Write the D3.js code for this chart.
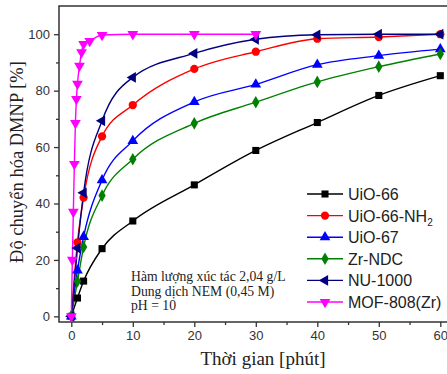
<!DOCTYPE html>
<html>
<head>
<meta charset="utf-8">
<script src="https://cdn.jsdelivr.net/npm/d3@7"></script>
<style>
  body { margin: 0; background: #fff; }
  svg { display: block; }
</style>
</head>
<body>
<div id="chart"></div>
<script>
// time points (minutes)
const tMain = [0, 1, 2, 5, 10, 20, 30, 40, 50, 60];
const tMof = [0, 0.17, 0.33, 0.5, 0.67, 0.83, 1, 1.33, 1.67, 2, 3, 5, 10, 20, 30];

const uio66 = [0, 6.5, 12.5, 24, 33.8, 46.6, 58.8, 68.7, 78.3, 85.3];
const uio66nh2 = [0, 26.2, 42.1, 63.8, 74.9, 87.7, 93.8, 98.4, 99, 100];
const uio67 = [0, 16.3, 28.2, 48.3, 62.2, 76, 82.2, 89.2, 92.4, 94.7];
const zrndc = [0, 12.4, 24.6, 42.8, 55.7, 68.4, 75.9, 83.1, 88.5, 93];
const nu1000 = [0, 24.2, 43.8, 69.3, 84.7, 93.2, 98.2, 99.8, 100, 100];
const mof808 = [0, 20, 37, 54, 68.5, 77, 82.4, 88.8, 93.6, 96.5, 97.6, 99.7, 100, 100, 100];

const seriesNames = ["UiO-66", "UiO-66-NH2", "UiO-67", "Zr-NDC", "NU-1000", "MOF-808(Zr)"];
const xTicks = [0, 10, 20, 30, 40, 50, 60];
const yTicks = [0, 20, 40, 60, 80, 100];
const notes = ["Hàm lượng xúc tác 2,04 g/L", "Dung dịch NEM (0,45 M)", "pH = 10"];

const series = [
  { name: seriesNames[0], t: tMain, v: uio66, color: "#000000", sym: "square" },
  { name: seriesNames[1], t: tMain, v: uio66nh2, color: "#ff0000", sym: "circle" },
  { name: seriesNames[2], t: tMain, v: uio67, color: "#0000ff", sym: "up" },
  { name: seriesNames[3], t: tMain, v: zrndc, color: "#008000", sym: "diamond" },
  { name: seriesNames[4], t: tMain, v: nu1000, color: "#000080", sym: "left" },
  { name: seriesNames[5], t: tMof, v: mof808, color: "#ff00ff", sym: "down" }
];

const W = 447, H = 374;
const svg = d3.select("#chart").append("svg")
  .attr("width", W).attr("height", H);

const x = d3.scaleLinear().domain([-2, 62]).range([59, 452.6]);
const y = d3.scaleLinear().domain([-2, 110]).range([322, 6]);

// symbol path generator
function symPath(sym) {
  const s = {
    square: d3.symbol(d3.symbolSquare, 50),
    circle: d3.symbol(d3.symbolCircle, 54),
    diamond: d3.symbol(d3.symbolDiamond, 46),
    up: d3.symbol(d3.symbolTriangle, 50),
    down: d3.symbol(d3.symbolTriangle, 50),
    left: d3.symbol(d3.symbolTriangle, 50)
  };
  return s[sym]();
}
function symRot(sym) {
  if (sym === "down") return 180;
  if (sym === "left") return -90;
  return 0;
}

// axes
const xAxis = d3.axisBottom(x).tickValues(xTicks).tickSize(5).tickPadding(4);
const xMinor = d3.axisBottom(x).tickValues([5, 15, 25, 35, 45, 55]).tickSize(3).tickFormat("");
const yAxis = d3.axisLeft(y).tickValues(yTicks).tickSize(5).tickPadding(4);
const yMinor = d3.axisLeft(y).tickValues([10, 30, 50, 70, 90]).tickSize(3).tickFormat("");

function styleAxis(g) {
  g.select(".domain").remove();
  g.selectAll("line").attr("stroke", "#333").attr("stroke-width", 1.3);
  g.selectAll("text").attr("fill", "#333")
    .style("font-family", "Liberation Sans, Arial, sans-serif")
    .style("font-size", "13px");
}

svg.append("g").attr("transform", `translate(0,${y(-2)})`).call(xAxis).call(styleAxis);
svg.append("g").attr("transform", `translate(0,${y(-2)})`).call(xMinor).call(styleAxis);
svg.append("g").attr("transform", `translate(${x(-2)},0)`).call(yAxis).call(styleAxis);
svg.append("g").attr("transform", `translate(${x(-2)},0)`).call(yMinor).call(styleAxis);

// frame
svg.append("rect")
  .attr("x", x(-2)).attr("y", y(110))
  .attr("width", x(62) - x(-2)).attr("height", y(-2) - y(110))
  .attr("fill", "none").attr("stroke", "#333").attr("stroke-width", 1.5);

// curves
const line = d3.line()
  .x(d => x(d[0])).y(d => y(d[1]))
  .curve(d3.curveMonotoneX);

series.forEach(s => {
  const pts = s.t.map((t, i) => [t, s.v[i]]);
  svg.append("path")
    .datum(pts)
    .attr("d", line)
    .attr("fill", "none")
    .attr("stroke", s.color)
    .attr("stroke-width", 1.4);
});

series.forEach(s => {
  const pts = s.t.map((t, i) => [t, s.v[i]]);
  svg.append("g").selectAll("path")
    .data(pts)
    .join("path")
    .attr("d", symPath(s.sym))
    .attr("transform", d => `translate(${x(d[0])},${y(d[1])}) rotate(${symRot(s.sym)})`)
    .attr("fill", s.color);
});

// legend
const leg = svg.append("g").attr("transform", "translate(307,194)");
series.forEach((s, i) => {
  const g = leg.append("g").attr("transform", `translate(0,${i * 21.6})`);
  g.append("line").attr("x1", 0).attr("x2", 36).attr("y1", 0).attr("y2", 0)
    .attr("stroke", s.color).attr("stroke-width", 1.4);
  g.append("path").attr("d", symPath(s.sym))
    .attr("transform", `translate(18,0) rotate(${symRot(s.sym)})`)
    .attr("fill", s.color);
  const txt = g.append("text").attr("x", 41).attr("y", 6)
    .attr("fill", "#222")
    .style("font-family", "Liberation Sans, Arial, sans-serif")
    .style("font-size", "16px");
  if (s.name === "UiO-66-NH2") {
    txt.text("UiO-66-NH");
    txt.append("tspan").attr("dy", 4).style("font-size", "10px").text("2");
  } else {
    txt.text(s.name);
  }
});

// annotation
const note = svg.append("g").attr("transform", "translate(131,281)");
notes.forEach((n, i) => {
  note.append("text").attr("x", 0).attr("y", i * 14.5)
    .attr("fill", "#222")
    .style("font-family", "Liberation Serif, Times New Roman, serif")
    .style("font-size", "13.7px")
    .text(n);
});

// axis titles
svg.append("text")
  .attr("x", 263).attr("y", 365)
  .attr("text-anchor", "middle")
  .attr("fill", "#222")
  .style("font-family", "Liberation Serif, Times New Roman, serif")
  .style("font-size", "19px")
  .text("Thời gian [phút]");

svg.append("text")
  .attr("transform", "translate(23,162) rotate(-90)")
  .attr("text-anchor", "middle")
  .attr("fill", "#222")
  .style("font-family", "Liberation Serif, Times New Roman, serif")
  .style("font-size", "18.5px")
  .text("Độ chuyển hóa DMNP [%]");
</script>
</body>
</html>
